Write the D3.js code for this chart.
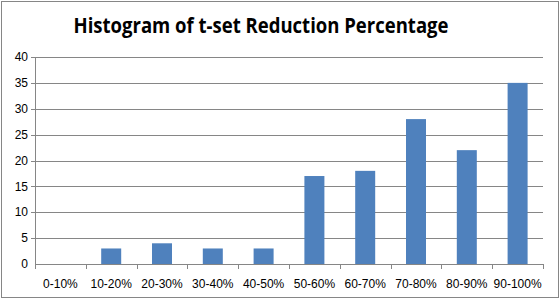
<!DOCTYPE html>
<html>
<head>
<meta charset="utf-8">
<script src="https://cdn.jsdelivr.net/npm/d3@7"></script>
<style>
  html, body { margin: 0; padding: 0; background: #fff; }
  svg { display: block; }
</style>
</head>
<body>
<div id="chart"></div>
<script>
// ─── Data ─────────────────────────────────────────────
const categories = ['0-10%', '10-20%', '20-30%', '30-40%', '40-50%',
                    '50-60%', '60-70%', '70-80%', '80-90%', '90-100%'];
const counts = [0, 3, 4, 3, 3, 17, 18, 28, 22, 35];
const yTicks = [0, 5, 10, 15, 20, 25, 30, 35, 40];
const title = 'Histogram of t-set Reduction Percentage';

// ─── Layout ───────────────────────────────────────────
const width = 560, height = 300;
const margin = { top: 57, right: 17, bottom: 36, left: 35 };
const w = width - margin.left - margin.right;
const h = height - margin.top - margin.bottom;
const axisColor = '#868686';
const font = "'Liberation Sans', Arial, sans-serif";

const svg = d3.select('#chart').append('svg')
    .attr('width', width)
    .attr('height', height);

// chart border
svg.append('rect')
    .attr('x', 1.5).attr('y', 1.5)
    .attr('width', width - 3).attr('height', height - 4)
    .attr('fill', '#fff')
    .attr('stroke', axisColor)
    .attr('stroke-width', 1);

svg.append('text')
    .attr('x', 261).attr('y', 33)
    .attr('text-anchor', 'middle')
    .attr('font-family', "'Open Sans', 'Liberation Sans', sans-serif")
    .attr('font-weight', 700)
    .attr('font-size', 21)
    .attr('textLength', 375)
    .attr('lengthAdjust', 'spacingAndGlyphs')
    .attr('fill', '#000')
    .text(title);

const g = svg.append('g')
    .attr('transform', `translate(${margin.left},${margin.top})`);

const xTick = d3.scaleBand().domain(categories).range([0, w]);
const y = d3.scaleLinear().domain([0, 40]).range([h, 0]);

// gridlines
g.selectAll('.grid')
    .data(yTicks.filter(t => t > 0))
    .join('line')
    .attr('x1', -4).attr('x2', w)
    .attr('y1', d => Math.round(y(d)) + 0.5)
    .attr('y2', d => Math.round(y(d)) + 0.5)
    .attr('stroke', axisColor);

// y axis line
g.append('line')
    .attr('x1', 0.5).attr('x2', 0.5)
    .attr('y1', 0).attr('y2', h)
    .attr('stroke', axisColor);

g.selectAll('.ylab')
    .data(yTicks)
    .join('text')
    .attr('x', -7)
    .attr('y', d => y(d))
    .attr('dy', '0.35em')
    .attr('text-anchor', 'end')
    .attr('font-family', font)
    .attr('font-size', 12)
    .attr('fill', '#000')
    .text(d => d);

// bars
g.selectAll('.bar')
    .data(counts)
    .join('rect')
    .attr('x', (d, i) => xTick(categories[i]) + xTick.bandwidth() / 2 - 10)
    .attr('y', d => y(d))
    .attr('width', 20)
    .attr('height', d => h - y(d))
    .attr('fill', '#4F81BD');

// x axis line + ticks
g.append('line')
    .attr('x1', 0).attr('x2', w)
    .attr('y1', Math.round(h) + 0.5).attr('y2', Math.round(h) + 0.5)
    .attr('stroke', axisColor);

g.selectAll('.xtick')
    .data(d3.range(categories.length + 1))
    .join('line')
    .attr('x1', i => Math.round(i * xTick.step()) + 0.5)
    .attr('x2', i => Math.round(i * xTick.step()) + 0.5)
    .attr('y1', h).attr('y2', h + 5)
    .attr('stroke', axisColor);

g.selectAll('.xlab')
    .data(categories)
    .join('text')
    .attr('x', d => xTick(d) + xTick.bandwidth() / 2)
    .attr('y', h + 24)
    .attr('text-anchor', 'middle')
    .attr('font-family', font)
    .attr('font-size', 12)
    .attr('fill', '#000')
    .text(d => d);
</script>
</body>
</html>
